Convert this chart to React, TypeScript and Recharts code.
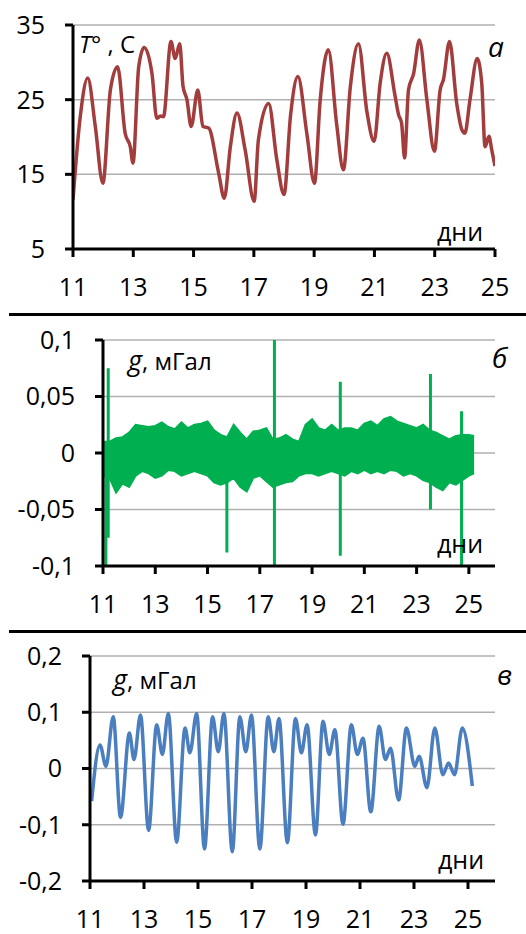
import React from 'react';
import {
  ComposedChart,
  Line,
  Area,
  XAxis,
  YAxis,
  CartesianGrid
} from 'recharts';

const FONT = '"Open Sans", "Noto Sans", sans-serif';

// (а) air temperature, °C
const tempDays = [
  11.0, 11.24, 11.49, 11.74, 11.99, 12.24, 12.48, 12.73, 12.9, 12.99, 13.18, 13.36, 13.62, 13.78, 13.9,
  14.0, 14.25, 14.39, 14.54, 14.65, 14.78, 14.92, 15.14, 15.31, 15.5, 15.83, 16.02, 16.22, 16.44, 16.71,
  17.01, 17.15, 17.49, 17.76, 18.0, 18.22, 18.46, 18.76, 19.01, 19.2, 19.47, 19.75, 19.97, 20.2, 20.47,
  20.75, 20.99, 21.19, 21.41, 21.68, 21.8, 21.9, 22.0, 22.13, 22.3, 22.49, 22.74, 22.99, 23.18, 23.29,
  23.49, 23.73, 23.9, 24.0, 24.17, 24.41, 24.56, 24.67, 24.8, 24.89, 25.0
];
const tempValues = [
  11.6, 22.7, 27.9, 21.4, 13.8, 26.3, 29.4, 20.5, 18.7, 16.5, 29.4, 32.0, 28.5, 22.5, 22.8,
  22.7, 32.8, 30.5, 32.5, 26.8, 25.0, 21.4, 26.3, 21.4, 21.2, 15.2, 11.8, 18.7, 23.2, 18.3,
  11.4, 19.6, 24.5, 17.0, 12.3, 23.0, 28.1, 20.4, 13.8, 24.9, 31.7, 21.6, 15.6, 26.7, 32.5,
  23.4, 19.4, 27.2, 31.2, 25.6, 23.0, 21.9, 17.2, 26.3, 28.5, 33.0, 25.0, 18.1, 26.3, 27.7,
  32.8, 24.5, 21.0, 20.5, 25.0, 30.5, 27.2, 18.7, 20.1, 18.3, 16.1
];
const tempTicksY = [5, 15, 25, 35];

// (б) residual gravity, mGal: noise band envelope + spikes
const bandDays = [
  11.0, 11.25, 11.5, 11.75, 12.0, 12.25, 12.5, 12.75, 13.0, 13.25, 13.5, 13.75, 14.0, 14.25, 14.5,
  14.75, 15.0, 15.25, 15.5, 15.75, 16.0, 16.25, 16.5, 16.75, 17.0, 17.25, 17.5, 17.75, 18.0, 18.25,
  18.5, 18.75, 19.0, 19.25, 19.5, 19.75, 20.0, 20.25, 20.5, 20.75, 21.0, 21.25, 21.5, 21.75, 22.0,
  22.25, 22.5, 22.75, 23.0, 23.25, 23.5, 23.75, 24.0, 24.25, 24.5, 24.75, 25.0, 25.2
];
const bandHigh = [
  0.010, 0.010, 0.013, 0.014, 0.018, 0.025, 0.024, 0.023, 0.024, 0.027, 0.023, 0.021, 0.027, 0.022, 0.025,
  0.026, 0.028, 0.020, 0.016, 0.014, 0.025, 0.018, 0.012, 0.019, 0.020, 0.022, 0.012, 0.013, 0.016, 0.012,
  0.010, 0.025, 0.030, 0.022, 0.020, 0.025, 0.020, 0.022, 0.022, 0.020, 0.026, 0.028, 0.024, 0.030, 0.032,
  0.028, 0.026, 0.024, 0.022, 0.025, 0.020, 0.018, 0.015, 0.012, 0.015, 0.016, 0.016, 0.015
];
const bandLow = [
  -0.020, -0.022, -0.035, -0.027, -0.030, -0.020, -0.016, -0.018, -0.022, -0.020, -0.015, -0.016, -0.020, -0.018, -0.016,
  -0.018, -0.020, -0.026, -0.028, -0.026, -0.022, -0.030, -0.034, -0.022, -0.020, -0.025, -0.030, -0.028, -0.026, -0.025,
  -0.020, -0.018, -0.018, -0.020, -0.018, -0.016, -0.018, -0.020, -0.016, -0.018, -0.015, -0.018, -0.016, -0.018, -0.015,
  -0.016, -0.020, -0.018, -0.020, -0.024, -0.026, -0.030, -0.033, -0.026, -0.028, -0.024, -0.020, -0.018
];
const spikeDays = [11.11, 11.2, 15.74, 17.56, 20.08, 23.53, 24.72];
const spikeLow = [-0.1, -0.075, -0.088, -0.1, -0.091, -0.05, -0.1];
const spikeHigh = [0.01, 0.075, 0.0, 0.1, 0.063, 0.07, 0.037];
const gTicksB = [-0.1, -0.05, 0, 0.05, 0.1];

// (в) tidal gravity, mGal
const tideDays = [
  11.06, 11.37, 11.59, 11.86, 12.13, 12.46, 12.63, 12.87, 13.17, 13.47, 13.68, 13.9, 14.21, 14.52, 14.7,
  14.95, 15.24, 15.54, 15.75, 15.96, 16.27, 16.55, 16.77, 16.98, 17.29, 17.6, 17.81, 18.0, 18.31, 18.61,
  18.83, 19.04, 19.35, 19.63, 19.86, 20.07, 20.37, 20.68, 20.9, 21.11, 21.4, 21.71, 21.94, 22.13, 22.43,
  22.72, 23.03, 23.19, 23.48, 23.77, 24.07, 24.28, 24.5, 24.79, 25.16
];
const tideValues = [
  -0.058, 0.042, 0.004, 0.092, -0.087, 0.063, 0.016, 0.095, -0.11, 0.078, 0.025, 0.098, -0.131, 0.072, 0.028,
  0.098, -0.143, 0.092, 0.03, 0.098, -0.148, 0.092, 0.03, 0.095, -0.143, 0.092, 0.03, 0.089, -0.132, 0.089,
  0.028, 0.078, -0.118, 0.084, 0.025, 0.069, -0.099, 0.078, 0.025, 0.054, -0.077, 0.075, 0.016, 0.036, -0.056,
  0.072, 0.004, 0.022, -0.034, 0.072, -0.011, 0.01, -0.011, 0.072, -0.031
];
const gTicksV = [-0.2, -0.1, 0, 0.1, 0.2];

const dayTicks = [11, 13, 15, 17, 19, 21, 23, 25];

const tempData = tempDays.map((day, i) => ({ day, t: tempValues[i] }));
const bandData = bandDays.map((day, i) => ({ day, range: [bandLow[i], bandHigh[i]] }));
const spikeData = spikeDays.flatMap((day, i) => [
  { day, g: spikeLow[i] },
  { day, g: spikeHigh[i] },
  { day, g: null }
]);
const tideData = tideDays.map((day, i) => ({ day, g: tideValues[i] }));

const comma = (v: number) => String(v).replace('.', ',');

const tickStyle = { fill: '#000', fontSize: 25, fontFamily: FONT };
const axisLine = { stroke: '#000', strokeWidth: 3 };

const xAxisProps = (domain: number[]) => ({
  type: 'number' as const,
  dataKey: 'day',
  domain,
  ticks: dayTicks,
  allowDataOverflow: true,
  height: 40,
  tickSize: 8,
  tickMargin: 21,
  axisLine,
  tickLine: axisLine,
  tick: tickStyle
});

const yAxisProps = (domain: number[], ticks: number[], width: number) => ({
  type: 'number' as const,
  domain,
  ticks,
  width,
  allowDataOverflow: true,
  tickSize: 8,
  tickMargin: 20,
  tickFormatter: comma,
  axisLine,
  tickLine: axisLine,
  tick: tickStyle,
  interval: 0 as const
});

const Rule = ({ top }: { top: number }) => (
  <div style={{ position: 'absolute', left: 9, top, width: 517, height: 3, background: '#000' }} />
);

export default function App() {
  return (
    <div style={{ position: 'absolute', left: 0, top: 0, width: 526, height: 934, background: '#fff' }}>
      <div style={{ position: 'absolute', left: 0, top: 0 }}>
        <ComposedChart width={526} height={310} margin={{ top: 25, right: 31, bottom: 21, left: 13 }}>
          <CartesianGrid vertical={false} stroke="#b0b0b0" strokeWidth={1.5} />
          <XAxis {...xAxisProps([11, 25])} />
          <YAxis {...yAxisProps([5, 35], tempTicksY, 60)} />
          <Line
            data={tempData}
            dataKey="t"
            type="monotone"
            stroke="#a33d3d"
            strokeWidth={3.5}
            dot={false}
            isAnimationActive={false}
          />
        </ComposedChart>
      </div>

      <div style={{ position: 'absolute', left: 0, top: 310 }}>
        <ComposedChart width={526} height={320} margin={{ top: 30, right: 31, bottom: 24, left: 33 }}>
          <CartesianGrid vertical={false} stroke="#b0b0b0" strokeWidth={1.5} />
          <XAxis {...xAxisProps([11, 26])} />
          <YAxis {...yAxisProps([-0.1, 0.1], gTicksB, 70)} />
          <Area
            data={bandData}
            dataKey="range"
            type="linear"
            stroke="#00b050"
            strokeWidth={2}
            fill="#00b050"
            fillOpacity={1}
            isAnimationActive={false}
          />
          <Line
            data={spikeData}
            dataKey="g"
            type="linear"
            stroke="#00b050"
            strokeWidth={3}
            dot={false}
            connectNulls={false}
            isAnimationActive={false}
          />
        </ComposedChart>
      </div>

      <div style={{ position: 'absolute', left: 0, top: 630 }}>
        <ComposedChart width={526} height={304} margin={{ top: 26, right: 31, bottom: 13, left: 20 }}>
          <CartesianGrid vertical={false} stroke="#b0b0b0" strokeWidth={1.5} />
          <XAxis {...xAxisProps([11, 26])} />
          <YAxis {...yAxisProps([-0.2, 0.2], gTicksV, 70)} />
          <Line
            data={tideData}
            dataKey="g"
            type="monotone"
            stroke="#4a7ebf"
            strokeWidth={3.5}
            dot={false}
            isAnimationActive={false}
          />
        </ComposedChart>
      </div>

      <Rule top={313} />
      <Rule top={630} />

      <svg
        width={526}
        height={934}
        style={{ position: 'absolute', left: 0, top: 0, pointerEvents: 'none' }}
        fontFamily={FONT}
      >
        <text x={79} y={53} fontSize={24} fill="#000">
          <tspan fontStyle="italic">T</tspan>° , С
        </text>
        <text x={488} y={57} fontSize={28} fontStyle="italic" fill="#000">а</text>
        <text x={437} y={241} fontSize={25} fill="#000">дни</text>

        <text x={128} y={370} fontSize={24} fill="#000">
          <tspan fontStyle="italic" fontSize={27}>g</tspan>, мГал
        </text>
        <text x={492} y={368} fontSize={28} fontStyle="italic" fill="#000">б</text>
        <text x={437} y={553} fontSize={25} fill="#000">дни</text>

        <text x={113} y={689} fontSize={24} fill="#000">
          <tspan fontStyle="italic" fontSize={27}>g</tspan>, мГал
        </text>
        <text x={497} y={685} fontSize={28} fontStyle="italic" fill="#000">в</text>
        <text x={438} y={869} fontSize={25} fill="#000">дни</text>
      </svg>
    </div>
  );
}
